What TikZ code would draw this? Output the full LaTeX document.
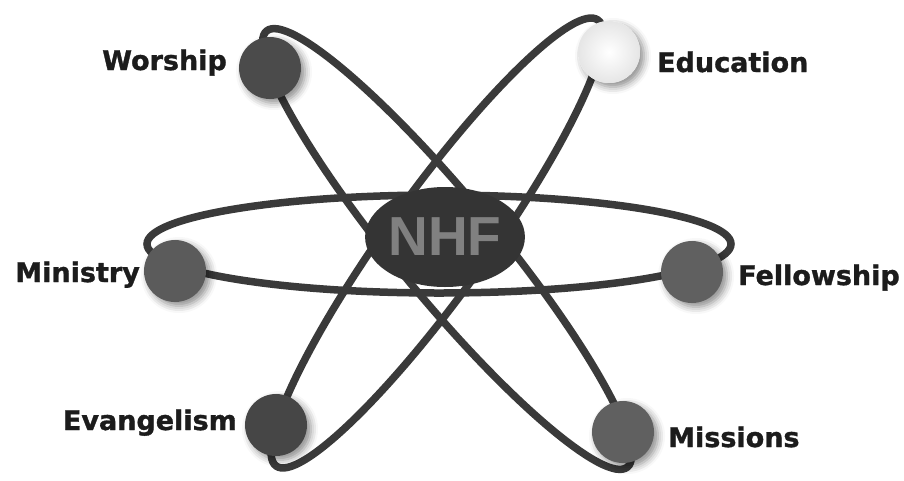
\documentclass[tikz,border=0pt]{standalone}
\usepackage{fontspec}
\setmainfont{DejaVu Sans}
\newfontfamily\nhffont{Liberation Sans}
\newfontfamily\lblfont{DejaVu Sans Bold}[FakeBold=1.2]
\usetikzlibrary{shadows.blur,shapes.geometric}
\definecolor{orbit}{HTML}{3A3A3A}
\definecolor{ballgray}{HTML}{525252}
\definecolor{labelc}{HTML}{1C1C1C}
\tikzset{
  orbitline/.style={draw=orbit, line width=7.5pt},
  ball/.style={circle, minimum size=62pt, inner sep=0pt, fill=ballgray,
    blur shadow={shadow xshift=4pt, shadow yshift=-4pt, shadow blur radius=7pt, shadow opacity=45}},
  lightball/.style={ball, fill=white, inner color=white, outer color=gray!20},
  lbl/.style={font=\lblfont\fontsize{27}{30}\selectfont, text=labelc, inner sep=0pt},
}
\begin{document}
\begin{tikzpicture}[x=1pt,y=-1pt]
\useasboundingbox (0,0) rectangle (904,480);
% orbits
\draw[orbitline] (439,244) ellipse [x radius=292pt, y radius=49pt];
\draw[orbitline, rotate around={-50.4:(447,249)}] (447,249) ellipse [x radius=283pt, y radius=50pt];
\draw[orbitline, rotate around={54.2:(437,243)}] (437,243) ellipse [x radius=275pt, y radius=50pt];
% nucleus
\node[ellipse, minimum width=130pt, minimum height=100pt, fill=orbit!90!black, inner sep=0pt] (nhf) at (445,237)
  {\nhffont\fontsize{55}{60}\selectfont\bfseries\color[HTML]{808080}NHF};
% electrons
\node[ball, fill=ballgray!92!black] (worship) at (270,68) {};
\node[lightball] (education) at (609,52) {};
\node[ball, fill=ballgray!95!white] (ministry) at (175,271) {};
\node[ball, fill=ballgray!92!white] (fellowship) at (692,272) {};
\node[ball, fill=ballgray!85!black] (evangelism) at (276,425) {};
\node[ball, fill=ballgray!92!white] (missions) at (623,432) {};
% labels
\node[lbl, anchor=base east] (lworship) at (227,70) {Worship};
\node[lbl, anchor=base west] (leducation) at (657,72) {Education};
\node[lbl, anchor=base east] (lministry) at (140,282) {Ministry};
\node[lbl, anchor=base west] (lfellowship) at (738,285) {Fellowship};
\node[lbl, anchor=base east] (levangelism) at (237,430) {Evangelism};
\node[lbl, anchor=base west] (lmissions) at (668,447) {Missions};
\end{tikzpicture}
\end{document}
